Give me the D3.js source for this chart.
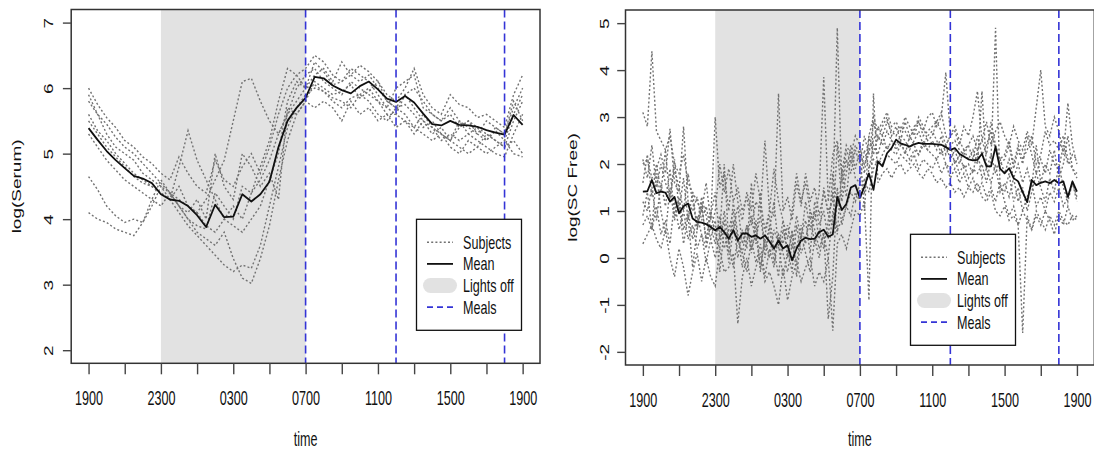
<!DOCTYPE html>
<html>
<head>
<meta charset="utf-8">
<script src="https://cdn.jsdelivr.net/npm/d3@7"></script>
<style>
  body { margin: 0; background: #fff; }
  svg { display: block; }
</style>
</head>
<body>
<svg id="chart" width="1094" height="452"></svg>
<script>
// time axis: hours after 19:00
const xTickHours = [0, 2, 4, 6, 8, 10, 12, 14, 16, 18, 20, 22, 24]
const xLabelHours = [0, 4, 8, 12, 16, 20, 24]
const xLabels = ['1900', '2300', '0300', '0700', '1100', '1500', '1900']
const lightsOff = [4, 12]
const mealHours = [12, 17, 23]
const legendLabels = ['Subjects', 'Mean', 'Lights off', 'Meals']

const serumTicks = [2, 3, 4, 5, 6, 7]
const scTicks = [-2, -1, 0, 1, 2, 3, 4, 5]

// log(Serum), every 30 min
const serumMean = [
  5.39, 5.21, 5.04, 4.90, 4.78, 4.66, 4.62, 4.55, 4.38, 4.30,
  4.28, 4.20, 4.06, 3.88, 4.22, 4.03, 4.04, 4.38, 4.27, 4.38,
  4.57, 5.10, 5.50, 5.70, 5.85, 6.17, 6.15, 6.04, 5.97, 5.92,
  6.03, 6.10, 5.98, 5.84, 5.79, 5.88, 5.78, 5.61, 5.45, 5.43,
  5.50, 5.44, 5.43, 5.41, 5.36, 5.32, 5.29, 5.59, 5.44
]
const serumSubjects = [
  [6.00, 5.75, 5.55, 5.40, 5.20, 5.10, 4.95, 4.85, 4.70, 4.60,
   4.95, 4.70, 4.50, 4.40, 4.90, 4.60, 4.50, 4.80, 5.00, 4.70,
   5.10, 5.60, 6.00, 6.20, 6.30, 6.50, 6.40, 6.20, 6.10, 6.20,
   6.35, 6.25, 6.10, 5.90, 5.80, 6.00, 6.30, 5.90, 5.70, 5.60,
   5.90, 5.75, 5.70, 5.55, 5.60, 5.50, 5.40, 5.90, 6.20],
  [5.80, 5.60, 5.45, 5.25, 5.10, 5.00, 4.85, 4.70, 4.55, 4.40,
   4.30, 4.20, 4.10, 4.30, 4.60, 4.90, 5.50, 6.10, 6.15, 5.80,
   5.50, 5.30, 5.60, 6.00, 6.20, 6.30, 6.10, 6.00, 5.90, 6.10,
   6.00, 5.90, 5.80, 5.70, 5.60, 5.90, 5.70, 5.50, 5.40, 5.30,
   5.20, 5.40, 5.50, 5.30, 5.20, 5.35, 5.20, 5.60, 5.90],
  [4.65, 4.45, 4.20, 4.05, 3.95, 4.00, 3.95, 4.20, 4.50, 4.30,
   4.10, 3.90, 3.75, 3.60, 3.45, 3.30, 3.20, 3.30, 3.25, 3.60,
   4.20, 4.80, 5.40, 5.70, 5.90, 6.00, 5.95, 5.80, 5.70, 5.85,
   5.90, 5.80, 5.60, 5.50, 5.70, 5.60, 5.40, 5.30, 5.20, 5.30,
   5.10, 5.00, 5.20, 5.10, 5.30, 5.20, 5.10, 5.20, 5.00],
  [4.10, 4.00, 3.95, 3.85, 3.80, 3.75, 3.95, 4.30, 4.60, 4.40,
   4.20, 4.00, 3.80, 3.70, 3.60, 3.80, 3.40, 3.10, 3.02, 3.40,
   3.90, 4.60, 5.20, 5.60, 5.80, 6.10, 6.00, 5.90, 5.95, 6.05,
   5.85, 5.95, 6.10, 5.80, 5.70, 5.75, 5.60, 5.40, 5.50, 5.30,
   5.20, 5.10, 5.00, 5.10, 5.00, 5.10, 5.20, 5.00, 4.95],
  [5.60, 5.35, 5.20, 5.00, 4.85, 4.70, 4.60, 4.50, 4.40, 4.30,
   4.50, 4.20, 4.10, 3.90, 3.80, 4.00, 4.20, 4.00, 4.40, 4.80,
   5.20, 5.80, 6.30, 6.20, 6.00, 6.20, 6.30, 6.10, 6.40, 6.20,
   6.10, 6.20, 6.00, 5.80, 5.70, 5.90, 6.00, 5.80, 5.60, 5.50,
   5.60, 5.40, 5.50, 5.40, 5.30, 5.20, 5.10, 5.50, 5.80],
  [5.50, 5.30, 5.10, 4.95, 4.80, 4.65, 4.55, 4.50, 4.40, 4.30,
   4.80, 5.35, 4.90, 4.60, 4.30, 4.00, 3.90, 3.80, 4.00, 4.20,
   4.60, 5.00, 5.80, 6.10, 6.00, 6.05, 5.95, 5.85, 5.80, 5.70,
   5.90, 6.00, 5.80, 5.60, 5.60, 5.50, 5.40, 5.60, 5.40, 5.20,
   5.30, 5.20, 5.30, 5.20, 5.10, 5.00, 4.95, 5.30, 5.60],
  [5.30, 5.10, 4.90, 4.75, 4.60, 4.50, 4.40, 4.30, 4.20, 4.40,
   4.20, 4.10, 4.30, 4.00, 5.00, 4.50, 4.30, 5.00, 4.80, 4.50,
   4.70, 4.30, 5.70, 5.60, 5.80, 5.70, 5.80, 5.70, 5.50, 5.80,
   5.60, 5.70, 5.50, 5.60, 5.40, 5.50, 5.30, 5.50, 5.30, 5.40,
   5.20, 5.50, 5.30, 5.40, 5.20, 5.40, 5.30, 5.80, 5.50],
  [5.90, 5.60, 5.30, 5.10, 5.00, 4.90, 4.70, 4.60, 4.50, 4.40,
   4.20, 4.00, 3.90, 3.85, 4.40, 4.20, 4.00, 4.50, 4.40, 4.60,
   4.90, 5.30, 5.60, 5.80, 6.00, 6.40, 6.25, 6.05, 6.10, 6.30,
   6.20, 6.10, 5.90, 5.70, 6.00, 6.10, 6.20, 5.70, 5.60, 5.50,
   5.70, 5.50, 5.40, 5.30, 5.50, 5.40, 5.30, 5.70, 6.00]
]

// log(SC Free), every 15 min
const scMean = [
  1.41, 1.42, 1.66, 1.38, 1.41, 1.39, 1.20, 1.30,
  0.95, 1.10, 1.16, 0.84, 0.77, 0.75, 0.72, 0.66,
  0.59, 0.66, 0.55, 0.41, 0.59, 0.37, 0.52, 0.52,
  0.45, 0.48, 0.41, 0.48, 0.35, 0.20, 0.37, 0.20,
  0.27, -0.05, 0.20, 0.37, 0.43, 0.40, 0.41, 0.55,
  0.60, 0.45, 0.50, 1.30, 1.02, 1.15, 1.50, 1.55,
  1.28, 1.52, 1.80, 1.45, 2.05, 1.95, 2.23, 2.34,
  2.52, 2.44, 2.41, 2.37, 2.42, 2.45, 2.43, 2.43,
  2.43, 2.42, 2.41, 2.36, 2.30, 2.34, 2.22, 2.16,
  2.10, 2.08, 2.09, 2.22, 1.95, 1.95, 2.37, 1.90,
  1.80, 1.91, 1.70, 1.63, 1.40, 1.19, 1.66, 1.55,
  1.60, 1.63, 1.59, 1.66, 1.59, 1.63, 1.30, 1.63,
  1.41
]
const scSubjects = [
  [3.10, 2.80, 4.40, 2.70, 2.50, 2.30, 2.60, 2.00,
   1.80, 2.20, 1.60, 1.40, 1.20, 1.00, 1.60, 0.80,
   3.00, 1.50, 1.80, 1.00, 2.00, 1.20, 0.80, 1.40,
   1.00, 1.80, 1.20, 0.60, 1.00, 1.90, 1.20, 0.80,
   0.40, 1.00, 1.80, 1.20, 1.60, 1.00, 0.80, 1.40,
   3.85, 1.20, 2.20, 2.50, 1.80, 2.40, 2.20, 2.60,
   2.40, 1.80, 2.60, 3.00, 2.70, 2.90, 3.10, 2.80,
   2.90, 2.70, 3.00, 2.80, 2.60, 2.90, 2.70, 3.00,
   3.10, 2.80, 3.00, 3.95, 2.60, 2.70, 2.40, 2.80,
   2.60, 3.00, 3.55, 2.50, 2.90, 2.40, 2.70, 2.90,
   2.60, 2.40, 2.80, 2.50, 2.30, 2.70, 2.40, 3.20,
   4.00, 2.80, 2.60, 3.00, 2.70, 2.20, 3.30, 2.40,
   2.00],
  [0.30, 0.50, 0.70, 0.40, 0.20, 0.60, 0.00, -0.40,
   0.20, -0.20, -0.80, -0.30, 0.10, -0.50, 0.00, -0.40,
   -0.60, 0.20, -0.30, -0.20, 0.10, -1.40, -0.40, 0.00,
   -0.60, -0.20, 0.10, -0.50, -0.30, -0.60, -1.00, -0.20,
   -0.90, -0.40, -0.10, -0.50, -0.20, 0.00, -0.60, -0.30,
   -0.50, 0.00, -1.55, 0.30, 0.50, 0.20, 0.60, 1.00,
   0.90, 1.20, -0.90, 3.50, 1.60, 1.80, 1.90, 1.70,
   1.90, 2.00, 1.80, 1.90, 2.00, 1.80, 1.70, 1.90,
   1.80, 1.60, 1.70, 1.50, 1.60, 1.40, 1.50, 1.30,
   1.50, 1.40, 1.60, 1.30, 1.20, 1.40, 1.00, 0.90,
   1.10, 0.80, 0.90, 0.70, -1.60, 0.90, 0.60, 1.00,
   0.80, 0.60, 0.90, 0.70, 1.00, 0.80, 0.70, 0.90,
   0.80],
  [2.00, 2.10, 1.70, 1.90, 2.20, 1.80, 2.75, 1.60,
   1.40, 2.80, 1.20, 1.00, 1.30, 0.80, 1.10, 0.60,
   1.00, 2.00, 1.40, 1.90, 1.20, 1.50, 1.00, 1.30,
   0.70, 1.20, 1.00, 2.50, 1.00, 0.90, 3.50, 1.00,
   1.30, 0.80, 1.60, 1.10, 1.80, 1.20, 1.50, 0.90,
   1.40, 1.00, 1.20, 4.90, 1.60, 2.30, 2.00, 2.40,
   2.20, 2.00, 2.30, 2.50, 2.80, 2.60, 2.90, 2.70,
   2.60, 2.80, 2.70, 2.50, 2.80, 2.90, 2.60, 2.70,
   2.80, 2.90, 3.10, 2.60, 2.40, 2.50, 2.30, 2.20,
   2.40, 2.60, 2.30, 2.50, 2.20, 2.90, 2.40, 2.10,
   2.20, 2.50, 2.00, 2.40, 2.10, 2.30, 2.60, 2.00,
   2.20, 2.70, 2.40, 2.50, 2.30, 2.60, 2.10, 1.90,
   1.80],
  [1.20, 1.00, 1.50, 0.80, 1.60, 1.10, 1.90, 0.90,
   1.30, 0.60, 1.00, 0.40, 0.90, 0.50, 0.20, 0.70,
   0.30, 0.90, 0.20, 0.60, 1.00, 0.40, 0.10, 0.70,
   0.20, 0.50, -0.20, 0.40, 0.00, 0.60, 0.30, -0.40,
   0.10, 0.50, 0.20, 0.70, 0.30, 1.00, 0.60, 0.20,
   0.50, 0.00, 1.00, 0.60, 0.80, 1.10, 1.40, 1.20,
   1.60, 1.40, 1.90, 2.10, 2.00, 2.20, 2.40, 2.30,
   2.20, 2.40, 2.30, 2.10, 2.30, 2.20, 2.40, 2.30,
   2.20, 2.10, 2.30, 2.00, 1.90, 2.10, 1.80, 2.00,
   1.70, 1.90, 1.80, 2.00, 1.60, 2.10, 4.90, 1.50,
   1.40, 1.80, 1.20, 1.50, 1.00, 1.30, 1.60, 1.10,
   1.30, 1.00, 1.40, 1.20, 1.50, 1.10, 1.30, 1.60,
   1.20],
  [0.70, 0.90, 0.60, 1.10, 0.50, 0.80, 0.30, 1.20,
   0.60, 1.00, 0.40, 0.70, 0.20, 0.50, -0.10, 0.40,
   0.00, 0.50, 2.00, 0.30, -0.20, 0.40, 0.10, -0.30,
   0.40, -0.10, 0.30, -0.40, 0.20, -0.20, 0.50, 0.10,
   -0.30, 0.30, -0.10, 0.50, 0.10, -0.30, 0.40, 0.00,
   0.60, -1.30, -0.40, 1.50, 0.70, 1.10, 0.90, 1.40,
   1.20, 1.70, 1.40, 1.90, 2.10, 2.00, 2.20, 2.10,
   2.00, 2.20, 2.10, 2.00, 2.20, 1.90, 2.10, 2.00,
   1.90, 2.10, 1.80, 2.00, 1.70, 1.90, 1.60, 1.80,
   1.50, 1.70, 1.40, 1.60, 1.30, 1.50, 1.20, 1.60,
   1.20, 0.90, 1.10, 0.70, 1.00, 0.80, 0.60, 0.90,
   0.70, 1.00, 0.80, 0.50, 0.90, 0.70, 1.10, 0.80,
   0.90],
  [1.60, 2.20, 1.30, 2.00, 1.40, 2.30, 1.20, 2.10,
   1.00, 1.70, 0.80, 1.40, 0.60, 1.10, 0.40, 1.00,
   0.50, 0.20, 1.00, 0.30, 0.80, 0.00, 0.60, 0.20,
   1.60, 0.40, 0.90, 0.20, 0.70, -0.10, 0.50, 0.30,
   0.70, 0.20, 0.90, 0.40, 1.20, 0.60, 1.00, 0.40,
   1.50, 0.90, 0.70, 2.40, 1.20, 1.80, 2.40, 1.90,
   2.30, 1.00, 2.60, 2.20, 2.60, 2.40, 2.70, 2.50,
   2.40, 2.60, 2.50, 2.30, 2.50, 2.70, 2.40, 2.60,
   2.70, 2.50, 2.20, 2.40, 2.10, 2.30, 2.00, 2.30,
   2.10, 2.30, 2.00, 3.55, 1.90, 2.20, 1.80, 2.10,
   1.80, 2.10, 1.70, 2.00, 1.60, 1.90, 1.50, 2.40,
   1.60, 2.00, 1.80, 2.30, 1.70, 2.00, 2.60, 1.90,
   1.70],
  [0.90, 1.40, 0.60, 1.80, 1.00, 0.50, 1.50, 0.80,
   1.20, 0.30, 0.90, -0.20, 0.60, 1.20, 0.30, 0.90,
   1.40, 0.40, 0.80, -0.10, 0.60, 1.10, 0.30, 0.70,
   0.10, 0.80, -0.30, 0.50, 0.90, 0.20, -0.40, 0.60,
   0.20, -0.30, 0.70, 0.10, 0.40, 0.90, 0.30, 0.60,
   0.20, 0.80, 1.40, 0.50, 1.90, 1.30, 2.20, 1.70,
   1.60, 2.30, 1.90, 2.40, 2.20, 2.60, 2.30, 2.50,
   2.30, 2.50, 2.20, 2.60, 2.40, 2.20, 2.50, 2.30,
   2.50, 2.30, 2.60, 2.20, 2.40, 2.00, 2.20, 1.90,
   2.00, 1.80, 2.30, 1.70, 1.90, 1.60, 2.00, 1.40,
   1.60, 1.30, 1.70, 1.20, 1.50, 1.00, 1.40, 1.80,
   1.50, 1.20, 1.70, 1.40, 2.00, 1.50, 1.20, 1.60,
   1.30],
  [2.10, 1.70, 2.40, 1.50, 2.00, 1.60, 1.30, 1.90,
   1.50, 1.00, 1.80, 1.20, 0.70, 1.30, 0.90, 0.40,
   0.80, -0.30, 0.60, 0.10, 1.20, 0.50, -0.20, 0.40,
   0.90, 0.30, 1.40, 0.00, 0.60, 1.20, 0.20, 0.80,
   0.00, 0.60, -0.40, 0.50, 0.80, 0.10, 1.20, 0.70,
   1.00, 0.40, 1.80, 1.10, 1.40, 2.10, 1.80, 2.30,
   2.00, 2.60, 2.20, 2.90, 2.50, 2.80, 3.00, 2.60,
   2.80, 2.50, 2.90, 2.60, 2.70, 3.00, 2.80, 2.50,
   2.60, 2.90, 2.70, 2.40, 2.60, 2.80, 2.50, 2.30,
   2.40, 2.10, 2.60, 2.20, 2.40, 2.70, 2.30, 2.00,
   2.10, 2.40, 1.90, 2.30, 2.00, 2.60, 2.20, 1.80,
   2.10, 1.80, 2.30, 2.00, 1.90, 2.40, 2.00, 2.20,
   2.10]
]

const serumTimes = serumMean.map((d, i) => i * 0.5)
const scTimes = scMean.map((d, i) => i * 0.25)

const font = '"Liberation Sans", Arial, Helvetica, sans-serif'
const svg = d3.select('#chart').style('font-family', font)
const defs = svg.append('defs')

const panels = [
  { id: 'serum', left: 71.2, right: 540, top: 9.5, bottom: 363.3,
    yDomain: [1.8, 7.2], yTicks: serumTicks, yLabel: 'log(Serum)',
    times: serumTimes, subjects: serumSubjects, mean: serumMean,
    legendX: 416.5, legendY: 219.3, yTickGap: 18, yTitleGap: 50 },
  { id: 'sc', left: 625.5, right: 1094.3, top: 10, bottom: 365,
    yDomain: [-2.28, 5.28], yTicks: scTicks, yLabel: 'log(SC Free)',
    times: scTimes, subjects: scSubjects, mean: scMean,
    legendX: 910.5, legendY: 234.3, yTickGap: 16.5, yTitleGap: 49 }
]

const drawPanel = p => {
  const g = svg.append('g')
  const x = d3.scaleLinear().domain([-0.96, 24.96]).range([p.left, p.right])
  const y = d3.scaleLinear().domain(p.yDomain).range([p.bottom, p.top])

  defs.append('clipPath').attr('id', 'clip-' + p.id)
    .append('rect')
    .attr('x', p.left).attr('y', p.top)
    .attr('width', p.right - p.left).attr('height', p.bottom - p.top)

  g.append('rect')
    .attr('x', x(lightsOff[0])).attr('y', p.top)
    .attr('width', x(lightsOff[1]) - x(lightsOff[0]))
    .attr('height', p.bottom - p.top)
    .attr('fill', '#e2e2e2')

  const line = d3.line()
    .x((d, i) => x(p.times[i]))
    .y(d => y(d))

  const plot = g.append('g').attr('clip-path', `url(#clip-${p.id})`)
  plot.selectAll('path.subject')
    .data(p.subjects)
    .join('path')
    .attr('class', 'subject')
    .attr('fill', 'none')
    .attr('stroke', '#727272')
    .attr('stroke-width', 1.4)
    .attr('stroke-dasharray', '2,2.2')
    .attr('d', line)
  plot.append('path')
    .datum(p.mean)
    .attr('fill', 'none')
    .attr('stroke', '#111')
    .attr('stroke-width', 1.8)
    .attr('stroke-linejoin', 'round')
    .attr('d', line)
  plot.selectAll('line.meal')
    .data(mealHours)
    .join('line')
    .attr('class', 'meal')
    .attr('x1', d => x(d)).attr('x2', d => x(d))
    .attr('y1', p.top).attr('y2', p.bottom)
    .attr('stroke', '#3434d6')
    .attr('stroke-width', 1.6)
    .attr('stroke-dasharray', '8,4')

  // legend
  const lg = g.append('g').attr('transform', `translate(${p.legendX},${p.legendY})`)
  lg.append('rect')
    .attr('width', 105).attr('height', 111)
    .attr('fill', '#fff').attr('stroke', '#111').attr('stroke-width', 1.3)
  legendLabels.forEach((label, i) => {
    const ry = 23 + i * 21.6
    if (i === 0) {
      lg.append('line').attr('x1', 10.5).attr('x2', 36.5).attr('y1', ry).attr('y2', ry)
        .attr('stroke', '#727272').attr('stroke-width', 1.4).attr('stroke-dasharray', '2,2.2')
    } else if (i === 1) {
      lg.append('line').attr('x1', 10.5).attr('x2', 36.5).attr('y1', ry).attr('y2', ry)
        .attr('stroke', '#111').attr('stroke-width', 1.8)
    } else if (i === 2) {
      lg.append('line').attr('x1', 14).attr('x2', 33).attr('y1', ry).attr('y2', ry)
        .attr('stroke', '#e2e2e2').attr('stroke-width', 15).attr('stroke-linecap', 'round')
    } else {
      lg.append('line').attr('x1', 10.5).attr('x2', 36.5).attr('y1', ry).attr('y2', ry)
        .attr('stroke', '#3434d6').attr('stroke-width', 1.6).attr('stroke-dasharray', '6,4')
    }
    lg.append('text')
      .attr('transform', `translate(46.5,${ry + 6.5}) scale(0.7,1)`)
      .attr('font-size', 18)
      .attr('fill', '#111')
      .text(label)
  })

  g.append('rect')
    .attr('x', p.left).attr('y', p.top)
    .attr('width', p.right - p.left).attr('height', p.bottom - p.top)
    .attr('fill', 'none').attr('stroke', '#333').attr('stroke-width', 1.5)

  const xAxis = g.append('g')
    .attr('transform', `translate(0,${p.bottom})`)
    .call(d3.axisBottom(x)
      .tickValues(xTickHours)
      .tickFormat(h => {
        const k = xLabelHours.indexOf(h)
        return k < 0 ? '' : xLabels[k]
      })
      .tickSize(11)
      .tickSizeOuter(0))
  xAxis.select('.domain').remove()
  xAxis.selectAll('line').attr('stroke', '#444').attr('stroke-width', 1.4)
  xAxis.selectAll('text')
    .attr('y', 0).attr('dy', null)
    .attr('transform', 'translate(0,41.7) scale(0.63,1)')
    .attr('font-size', 20).attr('font-family', font).attr('fill', '#111')

  const yAxis = g.append('g')
    .attr('transform', `translate(${p.left},0)`)
    .call(d3.axisLeft(y)
      .tickValues(p.yTicks)
      .tickFormat(d => String(d))
      .tickSize(8.3)
      .tickSizeOuter(0))
  yAxis.select('.domain').remove()
  yAxis.selectAll('line').attr('stroke', '#444').attr('stroke-width', 1.4)
  yAxis.selectAll('text')
    .attr('x', 0).attr('dy', null)
    .attr('text-anchor', 'middle')
    .attr('transform', `translate(${-p.yTickGap},0) rotate(-90) scale(1,0.68)`)
    .attr('font-size', 19).attr('font-family', font).attr('fill', '#111')

  g.append('text')
    .attr('transform', `translate(${p.left - p.yTitleGap},${(p.top + p.bottom) / 2}) rotate(-90) scale(1,0.65)`)
    .attr('text-anchor', 'middle')
    .attr('font-size', 19)
    .attr('fill', '#111')
    .text(p.yLabel)

  g.append('text')
    .attr('transform', `translate(${(p.left + p.right) / 2},446) scale(0.63,1)`)
    .attr('text-anchor', 'middle')
    .attr('font-size', 20)
    .attr('fill', '#111')
    .text('time')
}

panels.forEach(drawPanel)
</script>
</body>
</html>
